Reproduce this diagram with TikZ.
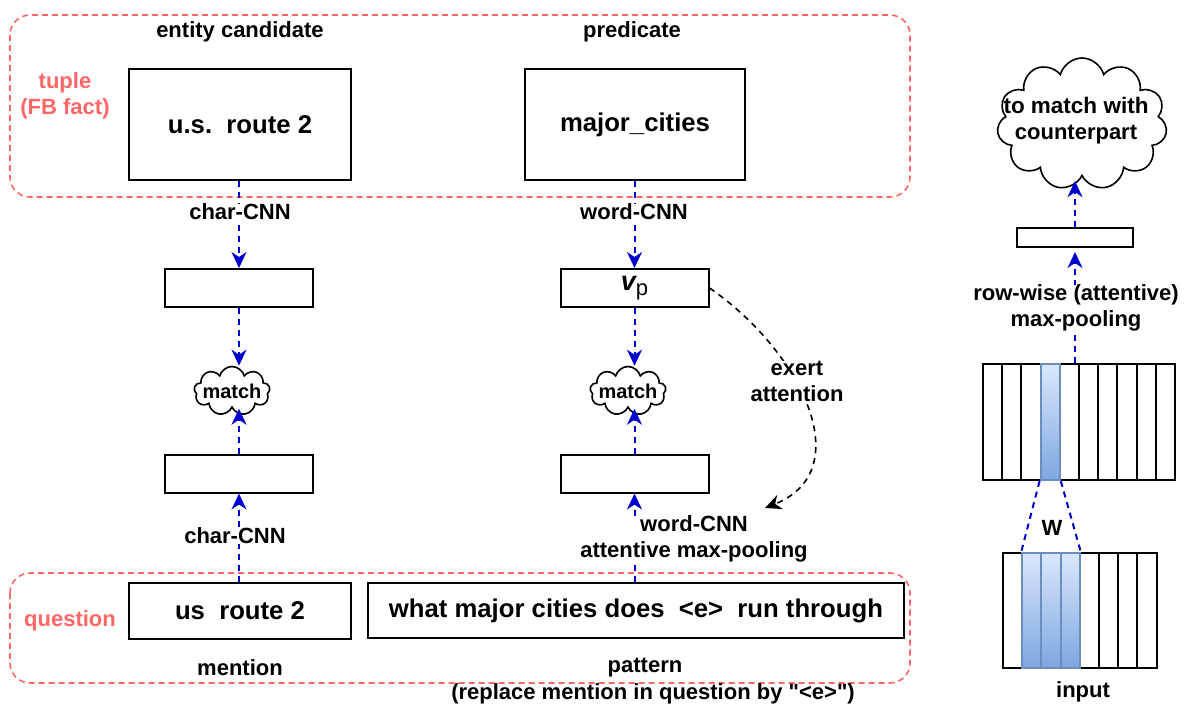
\documentclass[tikz,border=0pt]{standalone}
\usepackage{fontspec}
\setmainfont{Liberation Sans}[Ligatures=TeXOff]
\usetikzlibrary{shapes.symbols,arrows.meta}
\definecolor{tupred}{HTML}{FF6666}
\definecolor{arrblue}{HTML}{0000CC}
\definecolor{gradtop}{HTML}{DAE8FC}
\definecolor{gradbot}{HTML}{7EA6E0}
\definecolor{gradline}{HTML}{6C8EBF}
\newcommand{\lblsize}{\fontsize{22}{26}\selectfont\bfseries}
\newcommand{\boxsize}{\fontsize{25.7}{30}\selectfont\bfseries}
\newcommand{\vecp}{{\fontsize{27}{30}\selectfont\bfseries\itshape v}\raisebox{-5pt}{\fontsize{22}{22}\selectfont\mdseries p}}

\begin{document}
\begin{tikzpicture}[
      x=1pt, y=-1pt,
      every node/.style={font=\lblsize, align=center},
      frame/.style={draw=tupred, line width=1.6pt, dash pattern=on 6pt off 4pt, rounded corners=20pt},
      bigbox/.style={draw, line width=2pt, font=\boxsize, inner sep=0pt},
      vecbox/.style={draw, line width=2pt, minimum width=148pt, minimum height=38pt, inner sep=0pt},
      col/.style={draw, line width=2pt, minimum width=19.2pt, minimum height=116pt, inner sep=0pt},
      hot/.style={draw=gradline, top color=gradtop, bottom color=gradbot},
      mcloud/.style={draw, cloud, cloud puffs=9, line width=1.6pt, minimum width=76pt, minimum height=49pt, inner sep=0pt},
      flow/.style={draw=arrblue, line width=2pt, dash pattern=on 6pt off 5pt, -{Stealth[length=16pt,width=15pt,inset=5pt]}},
      attn/.style={line width=1.6pt, dash pattern=on 6pt off 5pt, -{Stealth[length=16pt,width=15pt,inset=5pt]}},
      cover/.style={fill=white, inner sep=0pt},
      redtxt/.style={text=tupred}
    ]
  \useasboundingbox (0,0) rectangle (1197,707);

  % tuple and question frames
  \draw[frame] (10,15) rectangle (910,197);
  \draw[frame] (10,573) rectangle (910,683);

  % left column: entity
  \node[bigbox, minimum width=222pt, minimum height=111pt] (ent) at (240,124.5) {u.s.\ \ route 2};
  \node[vecbox] (entvec) at (239,288) {};
  \node[mcloud] (match1) at (232,391) {};
  \node at (match1) {\fontsize{20}{20}\selectfont match};
  \node[vecbox] (menvec) at (239,473.5) {};
  \node[bigbox, minimum width=222pt, minimum height=56pt] (mention) at (240,611) {us\ \ route 2};

  % middle column: predicate
  \node[bigbox, minimum width=220pt, minimum height=111pt] (pred) at (635,124.5) {major\_cities};
  \node[vecbox] (vp) at (634.5,288) {\vecp};
  \node[mcloud] (match2) at (628,391) {};
  \node at (match2) {\fontsize{20}{20}\selectfont match};
  \node[vecbox] (patvec) at (634.5,473.5) {};
  \node[bigbox, minimum width=536pt, minimum height=55pt] (pattern) at (636,610.5)
    {what major cities does\ \ <e>\ \ run through};

  % arrows
  \draw[flow] (ent.south -| entvec.north) -- (entvec.north);
  \draw[flow] (entvec.south) -- (match1.north -| entvec.south);
  \draw[flow] (mention.north -| menvec.south) -- (menvec.south);
  \draw[flow] (menvec.north) -- (match1.south -| menvec.north);
  \draw[flow] (pred.south -| vp.north) -- (vp.north);
  \draw[flow] (vp.south) -- (match2.north -| vp.south);
  \draw[flow] (pattern.north -| patvec.south) -- (patvec.south);
  \draw[flow] (patvec.north) -- (match2.south -| patvec.north);

  \coordinate (attnend) at (765,508);
  \draw[attn] (vp.east) .. controls (800,350) and (860,470) .. (attnend);

  % labels
  \node at (240,32) {entity candidate};
  \node at (632,32) {predicate};
  \node[redtxt] at (65,96) {tuple\\(FB fact)};
  \node[redtxt] at (70,621) {question};
  \node[cover] at (240,212) {char-CNN};
  \node[cover] at (634,212) {word-CNN};
  \node[cover] at (235,536) {char-CNN};
  \node[cover] at (694,539) {word-CNN\\attentive max-pooling};
  \node[cover] (exert) at (797,381) {exert\\attention};
  \node at (240,668) {mention};
  \node at (645,668) {pattern};
  \node at (653,694) {(replace mention in question by "<e>")};

  % right part: convolution sketch
  \foreach \i in {1,2,3,5,6,7,8,9,10}
    \node[col] (u\i) at ({983+19.2*(\i-0.5)},422) {};
  \node[col, hot] (u4) at ({983+19.2*3.5},422) {};
  \foreach \i in {1,5,6,7,8}
    \node[col, minimum height=115pt] (l\i) at ({1003+19.2*(\i-0.5)},610.5) {};
  \foreach \i in {2,3,4}
    \node[col, hot, minimum height=115pt] (l\i) at ({1003+19.2*(\i-0.5)},610.5) {};

  \node[draw, line width=2pt, minimum width=116pt, minimum height=19pt, inner sep=0pt] (rvec) at (1075,237.5) {};
  \node[draw, cloud, cloud puffs=11, line width=1.6pt, minimum width=170pt, minimum height=132pt] (goal) at (1082,124) {};
  \node (goaltxt) at (1076,121) {\fontsize{22.5}{28}\selectfont to match with\\counterpart};

  \draw[flow, shorten >=4pt] (rvec.north) -- (goal.south -| rvec.north);
  \draw[flow, shorten >=4pt] (rvec.south |- u5.north) -- (rvec.south);
  \draw[arrblue, line width=2pt, dash pattern=on 6pt off 5pt] (u4.south west) -- (l2.north west);
  \draw[arrblue, line width=2pt, dash pattern=on 6pt off 5pt] (u4.south east) -- (l4.north east);

  \node[cover] at (1076,308) {row-wise (attentive)\\max-pooling};
  \node at (1052,528) {W};
  \node at (1083,692) {input};
\end{tikzpicture}
\end{document}
